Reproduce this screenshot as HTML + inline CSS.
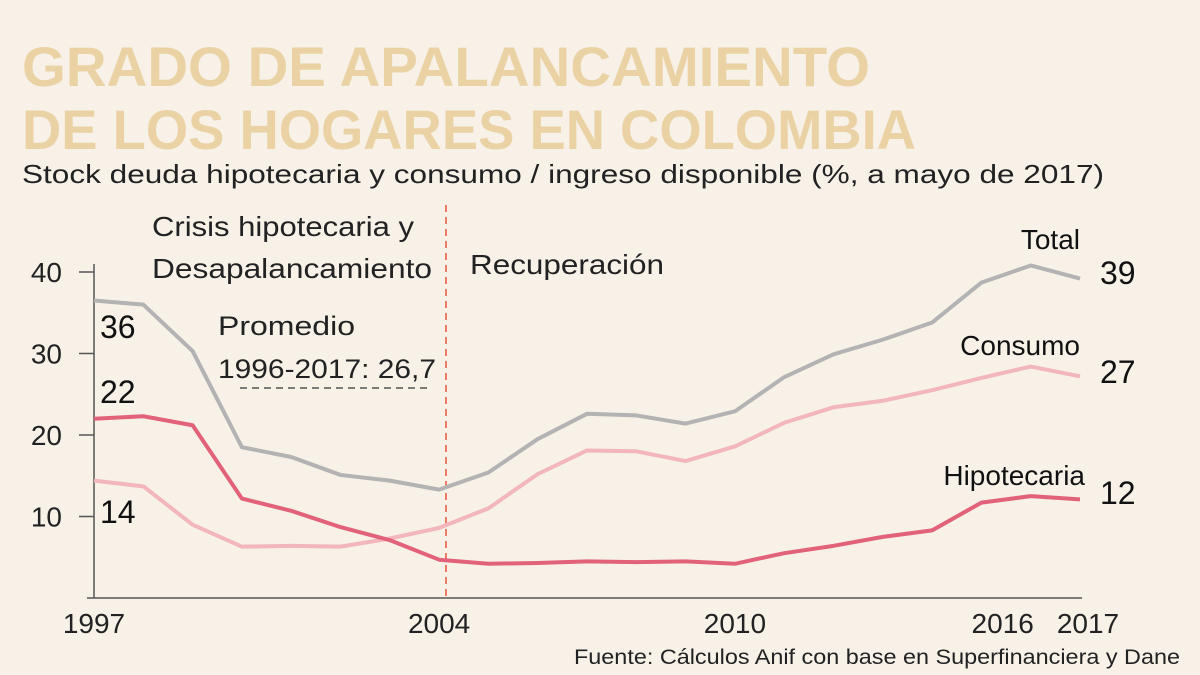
<!DOCTYPE html>
<html><head><meta charset="utf-8"><style>
body{margin:0;background:#f7f1e7;}
svg{display:block;font-family:"Liberation Sans",sans-serif;}
</style></head><body>
<svg width="1200" height="675" viewBox="0 0 1200 675">
<rect width="1200" height="675" fill="#f7f1e7"/>
<text x="22" y="86" font-size="56" font-weight="bold" fill="#ead2a4" textLength="848" lengthAdjust="spacingAndGlyphs">GRADO DE APALANCAMIENTO</text>
<text x="22" y="149" font-size="56" font-weight="bold" fill="#ead2a4" textLength="894" lengthAdjust="spacingAndGlyphs">DE LOS HOGARES EN COLOMBIA</text>
<text x="22" y="183" font-size="26" fill="#222" textLength="1082" lengthAdjust="spacingAndGlyphs">Stock deuda hipotecaria y consumo / ingreso disponible (%, a mayo de 2017)</text>
<text x="152" y="236" font-size="28" fill="#222" textLength="262" lengthAdjust="spacingAndGlyphs">Crisis hipotecaria y</text>
<text x="152" y="278" font-size="28" fill="#222" textLength="280" lengthAdjust="spacingAndGlyphs">Desapalancamiento</text>
<text x="470" y="274" font-size="28" fill="#222" textLength="194" lengthAdjust="spacingAndGlyphs">Recuperación</text>
<text x="218" y="335" font-size="27" fill="#222" textLength="137" lengthAdjust="spacingAndGlyphs">Promedio</text>
<text x="218" y="378" font-size="27" fill="#222" textLength="218" lengthAdjust="spacingAndGlyphs">1996-2017: 26,7</text>
<line x1="240" y1="388" x2="428" y2="388" stroke="#333" stroke-width="1.2" stroke-dasharray="7,5"/>
<line x1="446" y1="205" x2="446" y2="598" stroke="#e8553a" stroke-width="1.5" stroke-dasharray="7,5"/>
<g id="axes"></g>
<g id="series"></g>
<text x="1180" y="664" font-size="21" fill="#222" text-anchor="end" textLength="606" lengthAdjust="spacingAndGlyphs">Fuente: Cálculos Anif con base en Superfinanciera y Dane</text>
</svg>
<script>
const years=[1997,1998,1999,2000,2001,2002,2003,2004,2005,2006,2007,2008,2009,2010,2011,2012,2013,2014,2015,2016,2017];
const total=[36.5,36,30.3,18.5,17.3,15.1,14.4,13.3,15.4,19.5,22.6,22.4,21.4,22.9,27.1,29.9,31.7,33.8,38.7,40.8,39.2];
const consumo=[14.4,13.7,9.0,6.3,6.4,6.3,7.3,8.6,11.0,15.2,18.1,18.0,16.8,18.6,21.5,23.4,24.2,25.5,27.0,28.4,27.2];
const hipotecaria=[22,22.3,21.2,12.2,10.7,8.7,7.1,4.7,4.2,4.3,4.5,4.4,4.5,4.2,5.5,6.4,7.5,8.3,11.7,12.5,12.1];
const yTicks=[10,20,30,40];
const xLabels=[1997,2004,2010,2016,2017];
const NS="http://www.w3.org/2000/svg";
function xs(y){return 94+(y-1997)*49.3;}
function ys(v){return 598-v*8.15;}
const ax=document.getElementById('axes');
function mk(tag,attrs,parent){const e=document.createElementNS(NS,tag);for(const k in attrs)e.setAttribute(k,attrs[k]);parent.appendChild(e);return e;}
let l=mk('line',{x1:94,y1:264,x2:94,y2:598,stroke:'#555','stroke-width':1.5},ax);


l=mk('line',{x1:87,y1:598,x2:1082,y2:598,stroke:'#555','stroke-width':1.5},ax);


yTicks.forEach(t=>{
 const tk=mk('line',{x1:79,y1:ys(t),x2:94,y2:ys(t),stroke:'#555','stroke-width':1.5},ax);
 
 
 const tx=mk('text',{x:62,y:ys(t)+10,'font-size':28,'text-anchor':'end',fill:'#222'},ax);
 tx.textContent=t;
 
 
});
xLabels.forEach(y=>{
 let x=xs(y); if(y===2016)x-=28; if(y===2017)x+=8;
 const tx=mk('text',{x:x,y:633,'font-size':28,'text-anchor':'middle',fill:'#222'},ax);
 tx.textContent=y;
 
 
});
const sg=document.getElementById('series');
function line(data,color,name){
 const p=mk('polyline',{points:data.map((v,i)=>xs(years[i])+','+ys(v)).join(' '),fill:'none',stroke:color,'stroke-width':4,'stroke-linejoin':'round'},sg);
 
 
}
line(total,'#b3b3b3','line-total');
line(consumo,'#f2b6bc','line-consumo');
line(hipotecaria,'#e2627a','line-hipotecaria');
function lab(x,y,t,size,name,anchor){
 const tx=mk('text',{x:x,y:y,'font-size':size,fill:'#111','text-anchor':anchor||'start'},sg);
 tx.textContent=t;
 
 
}
lab(100,338,Math.floor(total[0]),32,'value-total-1997');
lab(100,403,Math.floor(hipotecaria[0]),32,'value-hipotecaria-1997');
lab(100,523,Math.floor(consumo[0]),32,'value-consumo-1997');
lab(1100,284,Math.floor(total[20]),32,'value-total-2017');
lab(1100,383,Math.floor(consumo[20]),32,'value-consumo-2017');
lab(1100,504,Math.floor(hipotecaria[20]),32,'value-hipotecaria-2017');
lab(1080,249,'Total',28,'legend-total','end');
lab(1080,355,'Consumo',28,'legend-consumo','end');
lab(1085,485,'Hipotecaria',28,'legend-hipotecaria','end');
</script>
</body></html>
